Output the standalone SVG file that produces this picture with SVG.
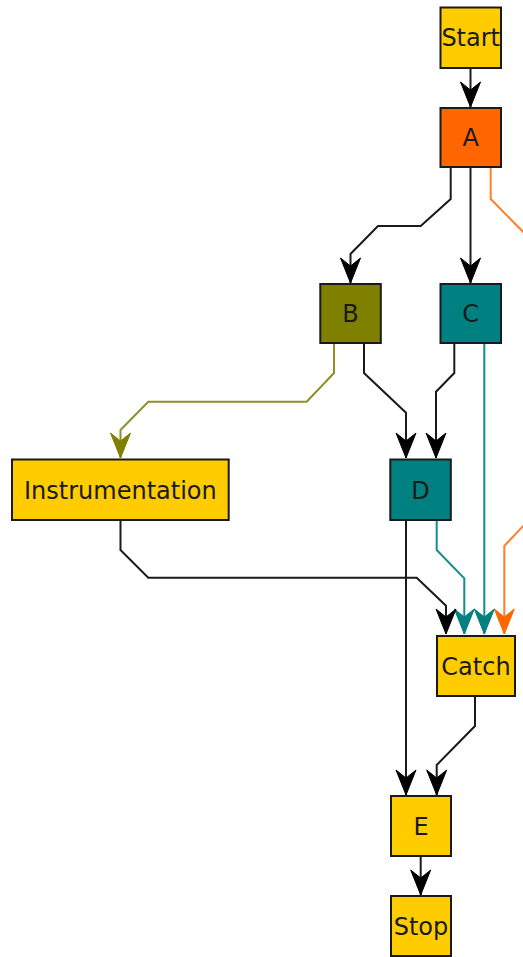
<svg xmlns="http://www.w3.org/2000/svg" width="523" height="957" viewBox="0 0 523 957">
<style>
.n rect{stroke:#1a1a1a;stroke-width:2}
.n text{font-family:"DejaVu Sans",sans-serif;font-size:24px;fill:#1a1a1a;text-anchor:middle}
.yel{fill:#ffcc00}
.e path{fill:none;stroke-width:2}
.k{stroke:#1a1a1a}
.t{stroke:#138d8d}
.o{stroke:#ff7f2a}
.v{stroke:#8f8f2a}
</style>
<defs>
<marker id="mk" markerUnits="userSpaceOnUse" markerWidth="32" markerHeight="32" viewBox="-30 -16 32 32" refX="0" refY="0" orient="auto"><path d="M0,0 L-25,-10 L-17,0 L-25,10 Z" fill="#000" stroke="#000" stroke-width="1" stroke-linejoin="round"/></marker>
<marker id="mt" markerUnits="userSpaceOnUse" markerWidth="32" markerHeight="32" viewBox="-30 -16 32 32" refX="0" refY="0" orient="auto"><path d="M0,0 L-25,-10 L-17,0 L-25,10 Z" fill="#008080" stroke="#008080" stroke-width="1" stroke-linejoin="round"/></marker>
<marker id="mo" markerUnits="userSpaceOnUse" markerWidth="32" markerHeight="32" viewBox="-30 -16 32 32" refX="0" refY="0" orient="auto"><path d="M0,0 L-25,-10 L-17,0 L-25,10 Z" fill="#ff6600" stroke="#ff6600" stroke-width="1" stroke-linejoin="round"/></marker>
<marker id="mv" markerUnits="userSpaceOnUse" markerWidth="32" markerHeight="32" viewBox="-30 -16 32 32" refX="0" refY="0" orient="auto"><path d="M0,0 L-25,-10 L-17,0 L-25,10 Z" fill="#808000" stroke="#808000" stroke-width="1" stroke-linejoin="round"/></marker>
</defs>
<g id="edges" class="e">
<path class="k" d="M470.5,68 V107" marker-end="url(#mk)"/>
<path class="k" d="M450.7,167 V199 L420.7,226 H378 L350.5,254 V283" marker-end="url(#mk)"/>
<path class="k" d="M470.5,167 V283" marker-end="url(#mk)"/>
<path class="o" d="M490.7,167 V199 L541,250 V507 L504.3,546 V634" marker-end="url(#mo)"/>
<path class="v" d="M334,343 V373 L306.7,401.7 H148.3 L120.5,430 V458" marker-end="url(#mv)"/>
<path class="k" d="M364,343 V373 L406,412.7 V458" marker-end="url(#mk)"/>
<path class="k" d="M454.3,343 V373 L436,391.7 V458" marker-end="url(#mk)"/>
<path class="t" d="M484.3,343 V634" marker-end="url(#mt)"/>
<path class="k" d="M406,520 V795" marker-end="url(#mk)"/>
<path class="t" d="M436.7,520 V550 L464.3,578.3 V634" marker-end="url(#mt)"/>
<path class="k" d="M120.5,520 V550 L148.3,577.7 H416.7 L446,605.7 V634" marker-end="url(#mk)"/>
<path class="k" d="M475,696 V726 L436.7,765 V795" marker-end="url(#mk)"/>
<path class="k" d="M420.7,856 V895" marker-end="url(#mk)"/>
</g>
<g id="Start" class="n"><rect class="yel" x="440.5" y="7.5" width="60.5" height="60.5"/><text x="470.7" y="46">Start</text></g>
<g id="A" class="n"><rect x="440.5" y="108" width="60.5" height="59" fill="#ff6600"/><text x="470.7" y="146">A</text></g>
<g id="B" class="n"><rect x="320.3" y="284" width="60.5" height="59" fill="#808000"/><text x="350.5" y="322">B</text></g>
<g id="C" class="n"><rect x="440.5" y="284" width="60.5" height="59" fill="#008080"/><text x="470.7" y="322">C</text></g>
<g id="Instrumentation" class="n"><rect class="yel" x="12" y="459.5" width="216.7" height="60.5"/><text x="120.4" y="499">Instrumentation</text></g>
<g id="D" class="n"><rect x="390.3" y="459.5" width="60.5" height="60.5" fill="#008080"/><text x="420.5" y="499">D</text></g>
<g id="Catch" class="n"><rect class="yel" x="437" y="636" width="78" height="60"/><text x="476" y="675">Catch</text></g>
<g id="E" class="n"><rect class="yel" x="391" y="796" width="60" height="60"/><text x="421" y="835">E</text></g>
<g id="Stop" class="n"><rect class="yel" x="391" y="896" width="60" height="60"/><text x="421" y="935">Stop</text></g>
</svg>
